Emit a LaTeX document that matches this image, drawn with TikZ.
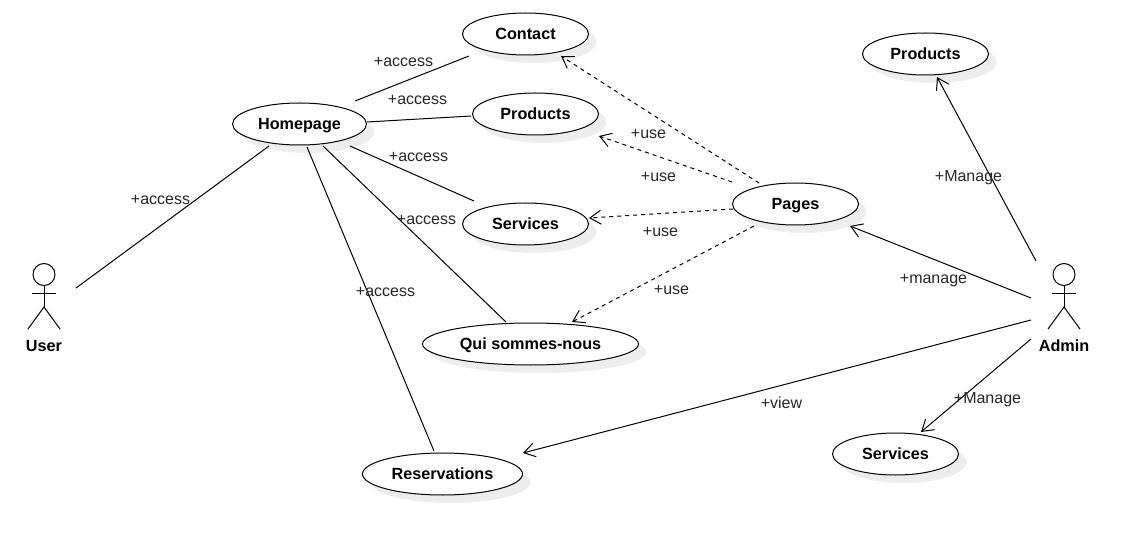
\documentclass[tikz,border=0pt]{standalone}
\usepackage{fontspec}
\setmainfont{Liberation Sans}
\usetikzlibrary{arrows.meta,shapes.geometric,shadows}
\begin{document}
\begin{tikzpicture}[
  x=1pt,y=-1pt,
  usecase/.style={ellipse,draw,fill=white,line width=1pt,inner sep=0pt,outer sep=0pt,
    minimum height=42pt,text height=11.5pt,text depth=0pt,font=\fontsize{16.2}{19}\selectfont\bfseries,
    drop shadow={shadow xshift=8pt,shadow yshift=-8pt,fill=black!7,opacity=1}},
  actorbox/.style={minimum width=32pt,minimum height=66pt,inner sep=0pt,outer sep=0pt},
  actorline/.style={line width=1pt},
  actorname/.style={text height=11.5pt,text depth=0pt,font=\fontsize{16.2}{19}\selectfont\bfseries},
  edgelabel/.style={text height=11.5pt,text depth=0pt,font=\fontsize{16}{19}\selectfont,text=black!85,inner sep=0pt},
  assoc/.style={line width=1pt},
  navig/.style={-{Straight Barb[length=11pt,width=14pt]},line width=1pt},
  usedep/.style={navig,dash pattern=on 4pt off 4pt}
]
  \useasboundingbox (0,0) rectangle (1145,545);

  % use cases
  \node[usecase,minimum width=126pt] (contact) at (525.5,34) {Contact};
  \node[usecase,minimum width=126pt] (products) at (535.5,114) {Products};
  \node[usecase,minimum width=134pt] (homepage) at (299.5,124) {Homepage};
  \node[usecase,minimum width=126pt] (services) at (525.5,224) {Services};
  \node[usecase,minimum width=126pt] (pages) at (795.5,204) {Pages};
  \node[usecase,minimum width=216pt] (qui) at (530.5,344) {Qui sommes-nous};
  \node[usecase,minimum width=160pt] (reservations) at (442.5,474) {Reservations};
  \node[usecase,minimum width=126pt] (adminproducts) at (925.5,54) {Products};
  \node[usecase,minimum width=126pt] (adminservices) at (895.5,454) {Services};

  % actors
  \node[actorbox] (user) at (44,297) {};
  \node[actorbox] (admin) at (1064,297) {};
  \node[actorname] (username) at (44,346) {User};
  \node[actorname] (adminname) at (1064,346) {Admin};
  \foreach \a in {user,admin}{
    \draw[actorline] ([shift={(0,-22.5)}]\a.center) circle (11pt);
    \draw[actorline] ([shift={(0,-11.5)}]\a.center) -- ([shift={(0,10)}]\a.center);
    \draw[actorline] ([shift={(-12,-4)}]\a.center) -- ([shift={(12,-4)}]\a.center);
    \draw[actorline] ([shift={(-16,32)}]\a.center) -- ([shift={(0,10)}]\a.center) -- ([shift={(16,32)}]\a.center);
  }

  % user side
  \draw[assoc] ([shift={(32,-9)}]user.center) -- ([shift={(-30.5,22)}]homepage.center);
  \draw[assoc] ([shift={(55.5,-23)}]homepage.center) -- ([shift={(-56.5,22)}]contact.center);
  \draw[assoc] ([shift={(67.5,-2)}]homepage.center) -- ([shift={(-64.5,2)}]products.center);
  \draw[assoc] ([shift={(50.5,22)}]homepage.center) -- ([shift={(-51.5,-23)}]services.center);
  \draw[assoc] ([shift={(23.5,22)}]homepage.center) -- ([shift={(-24.5,-22)}]qui.center);
  \draw[assoc] ([shift={(7.5,23)}]homepage.center) -- ([shift={(-8.5,-23)}]reservations.center);

  % pages
  \draw[usedep] ([shift={(-36.5,-21)}]pages.center) -- ([shift={(35.5,22)}]contact.center);
  \draw[usedep] ([shift={(-63.5,-22)}]pages.center) -- ([shift={(63.5,22)}]products.center);
  \draw[usedep] ([shift={(-62.5,5)}]pages.center) -- ([shift={(63.5,-6)}]services.center);
  \draw[usedep] ([shift={(-41.5,22)}]pages.center) -- ([shift={(41.5,-22)}]qui.center);

  % admin side
  \draw[navig] ([shift={(-28,-36)}]admin.center) -- ([shift={(11.5,23)}]adminproducts.center);
  \draw[navig] ([shift={(-33,1)}]admin.center) -- ([shift={(54.5,22)}]pages.center);
  \draw[navig] ([shift={(-33,23)}]admin.center) -- ([shift={(80.5,-21)}]reservations.center);
  \draw[navig] ([shift={(-33,42)}]admin.center) -- ([shift={(25.5,-22)}]adminservices.center);

  \foreach \n/\x/\y/\t in {
    accessa/160.5/199/+access,accessb/403.5/61/+access,accessc/417.5/99/+access,
    accessd/418.5/156/+access,accesse/426.5/219/+access,accessf/385.5/291/+access,
    usea/648.5/133/+use,useb/658.5/176/+use,usec/660.5/231/+use,used/671.5/289/+use,
    managea/968.5/176/+Manage,manageb/933.5/278/+manage,managec/987.5/398/+Manage,
    viewa/781.5/403/+view}{
    \node[edgelabel] (\n) at (\x,\y) {\t};
  }
\end{tikzpicture}
\end{document}
